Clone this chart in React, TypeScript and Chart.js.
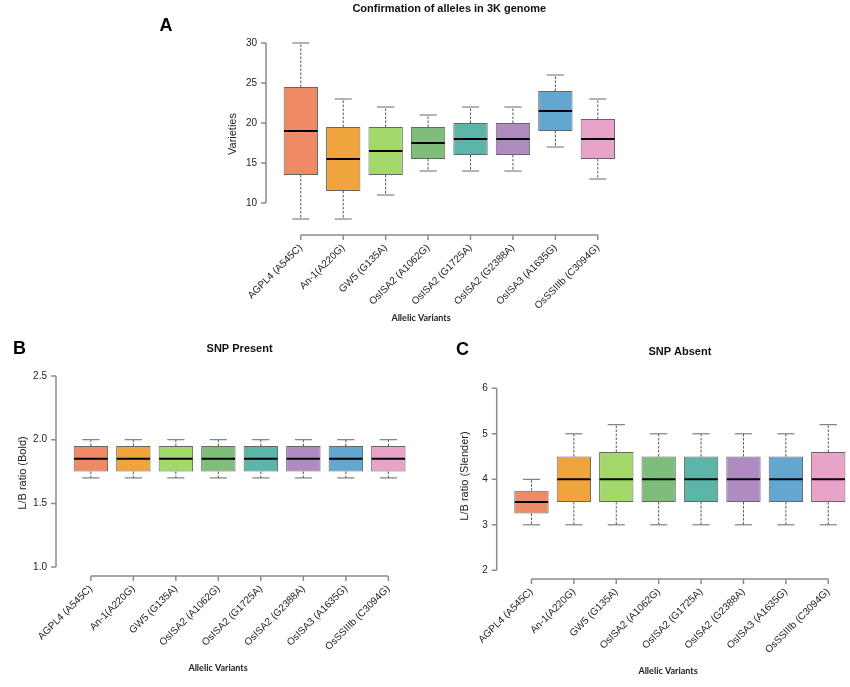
import React, { useEffect, useRef } from 'react';
import { Chart, registerables } from 'chart.js';

Chart.register(...registerables);

// ---------------- data ----------------
const categories = [
  'AGPL4 (A545C)',
  'An-1(A220G)',
  'GW5 (G135A)',
  'OsISA2 (A1062G)',
  'OsISA2 (G1725A)',
  'OsISA2 (G2388A)',
  'OsISA3 (A1635G)',
  'OsSSIIIb (C3094G)',
];
const categoryPositions = [1, 2, 3, 4, 5, 6, 7, 8];

// Panel A: Confirmation of alleles in 3K genome (Varieties)
const aMin = [8, 8, 11, 14, 14, 14, 17, 13];
const aQ1 = [13.5, 11.5, 13.5, 15.5, 16, 16, 19, 15.5];
const aMedian = [19, 15.5, 16.5, 17.5, 18, 18, 21.5, 18];
const aQ3 = [24.5, 19.5, 19.5, 19.5, 20, 20, 24, 20.5];
const aMax = [30, 23, 22, 21, 22, 22, 26, 23];
const aTicks = [10, 15, 20, 25, 30];
const aTickLabels = ['10', '15', '20', '25', '30'];

// Panel B: SNP Present, L/B ratio (Bold)
const bMin = [1.7, 1.7, 1.7, 1.7, 1.7, 1.7, 1.7, 1.7];
const bQ1 = [1.75, 1.75, 1.75, 1.75, 1.75, 1.75, 1.75, 1.75];
const bMedian = [1.85, 1.85, 1.85, 1.85, 1.85, 1.85, 1.85, 1.85];
const bQ3 = [1.95, 1.95, 1.95, 1.95, 1.95, 1.95, 1.95, 1.95];
const bMax = [2.0, 2.0, 2.0, 2.0, 2.0, 2.0, 2.0, 2.0];
const bTicks = [1.0, 1.5, 2.0, 2.5];
const bTickLabels = ['1.0', '1.5', '2.0', '2.5'];

// Panel C: SNP Absent, L/B ratio (Slender)
const cMin = [3, 3, 3, 3, 3, 3, 3, 3];
const cQ1 = [3.25, 3.5, 3.5, 3.5, 3.5, 3.5, 3.5, 3.5];
const cMedian = [3.5, 4, 4, 4, 4, 4, 4, 4];
const cQ3 = [3.75, 4.5, 4.6, 4.5, 4.5, 4.5, 4.5, 4.6];
const cMax = [4, 5, 5.2, 5, 5, 5, 5, 5.2];
const cTicks = [2, 3, 4, 5, 6];
const cTickLabels = ['2', '3', '4', '5', '6'];

// ---------------- styles ----------------
const boxColors = [
  '#EF8A66',
  '#F0A43E',
  '#A3D86B',
  '#7EBE7A',
  '#5BB5A8',
  '#B08BC2',
  '#63A7D1',
  '#E9A3C9',
];
const FONT = '"Liberation Sans", Arial, Helvetica, sans-serif';

type PanelCfg = {
  letter: string;
  title: string;
  yTitle: string;
  min: number[];
  q1: number[];
  median: number[];
  q3: number[];
  max: number[];
  ticks: number[];
  tickLabels: string[];
  // layout
  left: number;
  top: number;
  width: number;
  height: number;
  yAxisWidth: number;
  xAxisHeight: number;
  padTop: number;
  padRight: number;
  xMin: number;
  xMax: number;
  yMin: number;
  yMax: number;
  titleY: number;
  letterX: number;
  letterY: number;
  yTitleX: number;
  yTitleY: number;
  xLabelX: number;
  xLabelY: number;
};

const panels: PanelCfg[] = [
  {
    letter: 'A',
    title: 'Confirmation of alleles in 3K genome',
    yTitle: 'Varieties',
    min: aMin, q1: aQ1, median: aMedian, q3: aQ3, max: aMax,
    ticks: aTicks, tickLabels: aTickLabels,
    left: 150, top: 0, width: 490, height: 335,
    yAxisWidth: 116, xAxisHeight: 100, padTop: 35, padRight: 7.4,
    xMin: 0.18, xMax: 8.82, yMin: 6, yMax: 31,
    titleY: 9, letterX: 166, letterY: 26, yTitleX: 232.5, yTitleY: 134,
    xLabelX: 421, xLabelY: 318,
  },
  {
    letter: 'B',
    title: 'SNP Present',
    yTitle: 'L/B ratio (Bold)',
    min: bMin, q1: bQ1, median: bMedian, q3: bQ3, max: bMax,
    ticks: bTicks, tickLabels: bTickLabels,
    left: 0, top: 335, width: 425, height: 352,
    yAxisWidth: 56, xAxisHeight: 111, padTop: 33.4, padRight: 1.8,
    xMin: 0.18, xMax: 8.82, yMin: 0.93, yMax: 2.56,
    titleY: 349, letterX: 19.5, letterY: 349, yTitleX: 23, yTitleY: 473,
    xLabelX: 218, xLabelY: 668,
  },
  {
    letter: 'C',
    title: 'SNP Absent',
    yTitle: 'L/B ratio (Slender)',
    min: cMin, q1: cQ1, median: cMedian, q3: cQ3, max: cMax,
    ticks: cTicks, tickLabels: cTickLabels,
    left: 425, top: 335, width: 425, height: 352,
    yAxisWidth: 71.7, xAxisHeight: 108, padTop: 46, padRight: 1,
    xMin: 0.18, xMax: 8.489, yMin: 1.81, yMax: 6.16,
    titleY: 352, letterX: 462.5, letterY: 350, yTitleX: 464.5, yTitleY: 476,
    xLabelX: 668, xLabelY: 671,
  },
];

function BoxPanel({ p }: { p: PanelCfg }) {
  const ref = useRef<HTMLCanvasElement>(null);

  useEffect(() => {
    const canvas = ref.current;
    if (!canvas) return;

    const boxPlugin = {
      id: 'boxExtras',
      beforeDatasetsDraw(chart: any) {
        const ctx = chart.ctx;
        const xs = chart.scales.x;
        const ys = chart.scales.y;
        const meta = chart.getDatasetMeta(0);
        ctx.save();
        meta.data.forEach((bar: any, i: number) => {
          const w = bar.width;
          const cx = xs.getPixelForValue(categoryPositions[i]);
          const yLo = ys.getPixelForValue(p.min[i]);
          const yQ1 = ys.getPixelForValue(p.q1[i]);
          const yQ3 = ys.getPixelForValue(p.q3[i]);
          const yHi = ys.getPixelForValue(p.max[i]);
          ctx.strokeStyle = '#555';
          ctx.lineWidth = 1;
          ctx.setLineDash([2.5, 1.5]);
          ctx.beginPath();
          ctx.moveTo(cx, yQ3);
          ctx.lineTo(cx, yHi);
          ctx.moveTo(cx, yQ1);
          ctx.lineTo(cx, yLo);
          ctx.stroke();
          ctx.setLineDash([]);
          ctx.strokeStyle = '#666';
          ctx.beginPath();
          ctx.moveTo(cx - w / 4, yHi);
          ctx.lineTo(cx + w / 4, yHi);
          ctx.moveTo(cx - w / 4, yLo);
          ctx.lineTo(cx + w / 4, yLo);
          ctx.stroke();
        });
        ctx.restore();
      },
      afterDatasetsDraw(chart: any) {
        const ctx = chart.ctx;
        const xs = chart.scales.x;
        const ys = chart.scales.y;
        const meta = chart.getDatasetMeta(0);
        ctx.save();
        ctx.strokeStyle = '#000';
        ctx.lineWidth = 2;
        meta.data.forEach((bar: any, i: number) => {
          const w = bar.width;
          const cx = xs.getPixelForValue(categoryPositions[i]);
          const ym = ys.getPixelForValue(p.median[i]);
          ctx.beginPath();
          ctx.moveTo(cx - w / 2 + 0.5, ym);
          ctx.lineTo(cx + w / 2 - 0.5, ym);
          ctx.stroke();
        });
        ctx.restore();
      },
      afterDraw(chart: any) {
        const ctx = chart.ctx;
        const xs = chart.scales.x;
        const ys = chart.scales.y;
        const ca = chart.chartArea;
        ctx.save();
        // R-style axes: line from first to last tick, with tick marks
        ctx.strokeStyle = '#8c8c8c';
        ctx.lineWidth = 1.5;
        const yTop = ys.getPixelForValue(p.ticks[p.ticks.length - 1]);
        const yBot = ys.getPixelForValue(p.ticks[0]);
        ctx.beginPath();
        ctx.moveTo(ca.left, yTop);
        ctx.lineTo(ca.left, yBot);
        p.ticks.forEach((t) => {
          const y = ys.getPixelForValue(t);
          ctx.moveTo(ca.left, y);
          ctx.lineTo(ca.left - 5, y);
        });
        const xL = xs.getPixelForValue(categoryPositions[0]);
        const xR = xs.getPixelForValue(categoryPositions[categoryPositions.length - 1]);
        ctx.moveTo(xL, ca.bottom);
        ctx.lineTo(xR, ca.bottom);
        categoryPositions.forEach((v) => {
          const x = xs.getPixelForValue(v);
          ctx.moveTo(x, ca.bottom);
          ctx.lineTo(x, ca.bottom + 5);
        });
        ctx.stroke();

        // texts
        ctx.fillStyle = '#111';
        ctx.textAlign = 'center';
        ctx.textBaseline = 'middle';
        ctx.font = `bold 11px ${FONT}`;
        ctx.fillText(p.title, xs.getPixelForValue((p.xMin + 8.82) / 2), p.titleY - p.top);

        ctx.font = `bold 18px ${FONT}`;
        ctx.fillStyle = '#000';
        ctx.fillText(p.letter, p.letterX - p.left, p.letterY - p.top);

        ctx.font = `bold 9px Lato, "Open Sans", sans-serif`;
        ctx.fillStyle = '#222';
        ctx.fillText('Allelic Variants', p.xLabelX - p.left, p.xLabelY - p.top);

        ctx.font = `11px ${FONT}`;
        ctx.fillStyle = '#222';
        ctx.translate(p.yTitleX - p.left, p.yTitleY - p.top);
        ctx.rotate(-Math.PI / 2);
        ctx.fillText(p.yTitle, 0, 0);
        ctx.restore();
      },
    };

    const chart = new Chart(canvas, {
      type: 'bar',
      data: {
        datasets: [
          {
            data: categories.map((_, i) => ({ x: categoryPositions[i], y: [p.q1[i], p.q3[i]] })) as any,
            backgroundColor: boxColors,
            borderColor: '#666',
            borderWidth: 1,
            borderSkipped: false,
            barPercentage: 0.81,
            categoryPercentage: 1,
          },
        ],
      },
      options: {
        responsive: false,
        animation: false,
        devicePixelRatio: 1,
        events: [],
        layout: {
          padding: { left: 0, right: p.padRight, top: p.padTop, bottom: 0 },
        },
        plugins: {
          legend: { display: false },
          tooltip: { enabled: false },
          title: { display: false },
        },
        scales: {
          x: {
            type: 'linear',
            min: p.xMin,
            max: p.xMax,
            offset: false,
            bounds: 'data',
            grid: { display: false, drawTicks: false, offset: false },
            border: { display: false },
            afterBuildTicks: (s: any) => {
              s.ticks = categoryPositions.map((v) => ({ value: v }));
            },
            afterFit: (s: any) => {
              s.height = p.xAxisHeight;
            },
            ticks: {
              autoSkip: false,
              minRotation: 45,
              maxRotation: 45,
              padding: 7,
              color: '#222',
              font: { family: FONT, size: 10 },
              callback: (v: any, i: number) => categories[i],
            },
          },
          y: {
            type: 'linear',
            min: p.yMin,
            max: p.yMax,
            beginAtZero: false,
            bounds: 'data',
            grid: { display: false, drawTicks: false },
            border: { display: false },
            afterBuildTicks: (s: any) => {
              s.ticks = p.ticks.map((v) => ({ value: v }));
            },
            afterFit: (s: any) => {
              s.width = p.yAxisWidth;
            },
            ticks: {
              padding: 9,
              color: '#222',
              font: { family: FONT, size: 10 },
              callback: (v: any, i: number) => p.tickLabels[i],
            },
          },
        },
      } as any,
      plugins: [boxPlugin],
    });
    return () => chart.destroy();
  }, [p]);

  return (
    <canvas
      ref={ref}
      width={p.width}
      height={p.height}
      style={{ position: 'absolute', left: p.left, top: p.top, width: p.width, height: p.height }}
    />
  );
}

export default function App() {
  return (
    <div
      style={{
        position: 'absolute',
        left: 0,
        top: 0,
        width: 850,
        height: 687,
        background: '#fff',
        overflow: 'hidden',
      }}
    >
      {panels.map((p) => (
        <BoxPanel key={p.letter} p={p} />
      ))}
    </div>
  );
}
